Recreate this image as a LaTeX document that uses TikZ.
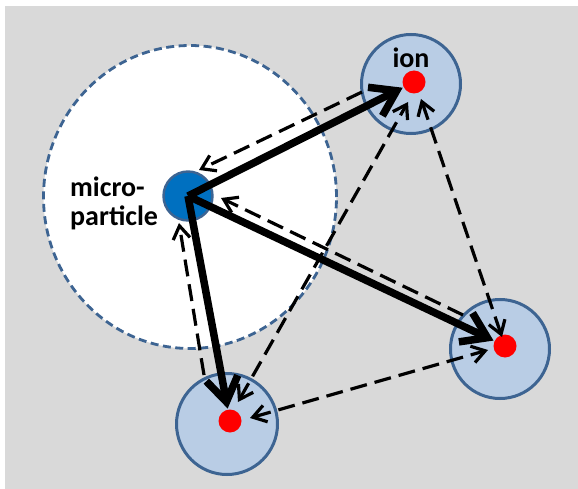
\documentclass[tikz,border=0pt]{standalone}
\usepackage{fontspec}
\setmainfont{Carlito}
\usetikzlibrary{arrows.meta,shapes.geometric}

\definecolor{bggray}{HTML}{D9D9D9}
\definecolor{shellfill}{HTML}{B9CDE5}
\definecolor{rim}{HTML}{3D6492}
\definecolor{coreblue}{HTML}{0070C0}
\definecolor{ionred}{HTML}{FF0000}

\tikzset{
  thinhead/.tip={Straight Barb[length=13pt,width=17pt]},
  boldhead/.tip={Straight Barb[length=24pt,width=32pt]},
  shell/.style={circle, draw=rim, line width=3pt, fill=shellfill, inner sep=0pt},
  ioncore/.style={circle, fill=ionred, inner sep=0pt, minimum size=23pt},
  sheath/.style={ellipse, draw=rim, line width=2.8pt, dash pattern=on 8pt off 4.5pt,
                 fill=white, inner sep=0pt, minimum width=293pt, minimum height=303pt},
  grain/.style={circle, draw=rim, line width=2.4pt, fill=coreblue, inner sep=0pt, minimum size=49pt},
  pull/.style={draw=black, line width=7.5pt, -boldhead},
  link/.style={draw=black, line width=3.2pt, dash pattern=on 17pt off 8pt},
  label/.style={font=\bfseries\fontsize{28}{29}\selectfont, inner sep=0pt, text=black}
}

\begin{document}
\begin{tikzpicture}[x=1pt,y=-1pt]
  \useasboundingbox (0,0) rectangle (578,489);
  \fill[bggray] (5,6) rectangle (578,489);

  % screening region around the grain
  \node[sheath] (zone) at (190,197) {};

  % ion shells
  \node[shell, minimum size=99pt]  (s1) at (411,84)  {};
  \node[shell, minimum size=99pt]  (s2) at (500,349) {};
  \node[shell, minimum size=101pt] (s3) at (227,424) {};

  % charged grain
  \node[grain] (mp) at (188,196) {};

  % ions
  \node[ioncore] (i1) at (414,82)  {};
  \node[ioncore] (i2) at (505,346) {};
  \node[ioncore] (i3) at (230,421) {};

  % labels
  \node[label, anchor=base] (ionlab) at (411,68) {ion};
  \node[label, anchor=north west, align=left] (mplab) at (70,177) {micro-\\particle};

  % end points of the dashed interactions
  \coordinate (a1) at (362,92);  \coordinate (b1) at (199,170);
  \coordinate (a2) at (463,315); \coordinate (b2) at (221,198);
  \coordinate (a3) at (204,375); \coordinate (b3) at (179,223);
  \coordinate (p13) at (408,102); \coordinate (q13) at (238,402);
  \coordinate (p12) at (421,99);  \coordinate (q12) at (502,337);
  \coordinate (p23) at (488,350); \coordinate (q23) at (250,418);

  % ion -> grain
  \draw[link, -thinhead] (a1) -- (b1);
  \draw[link, -thinhead] (a2) -- (b2);
  \draw[link, -thinhead] (a3) -- (b3);

  % ion <-> ion
  \draw[link, thinhead-thinhead] (q13) -- (p13);
  \draw[link, thinhead-thinhead] (q12) -- (p12);
  \draw[link, thinhead-thinhead] (q23) -- (p23);

  % grain -> ions
  \draw[pull, shorten >=1pt] (mp.center) -- (i1);
  \draw[pull, shorten >=1pt] (mp.center) -- (i2);
  \draw[pull, shorten >=1pt] (mp.center) -- (i3);
\end{tikzpicture}
\end{document}
